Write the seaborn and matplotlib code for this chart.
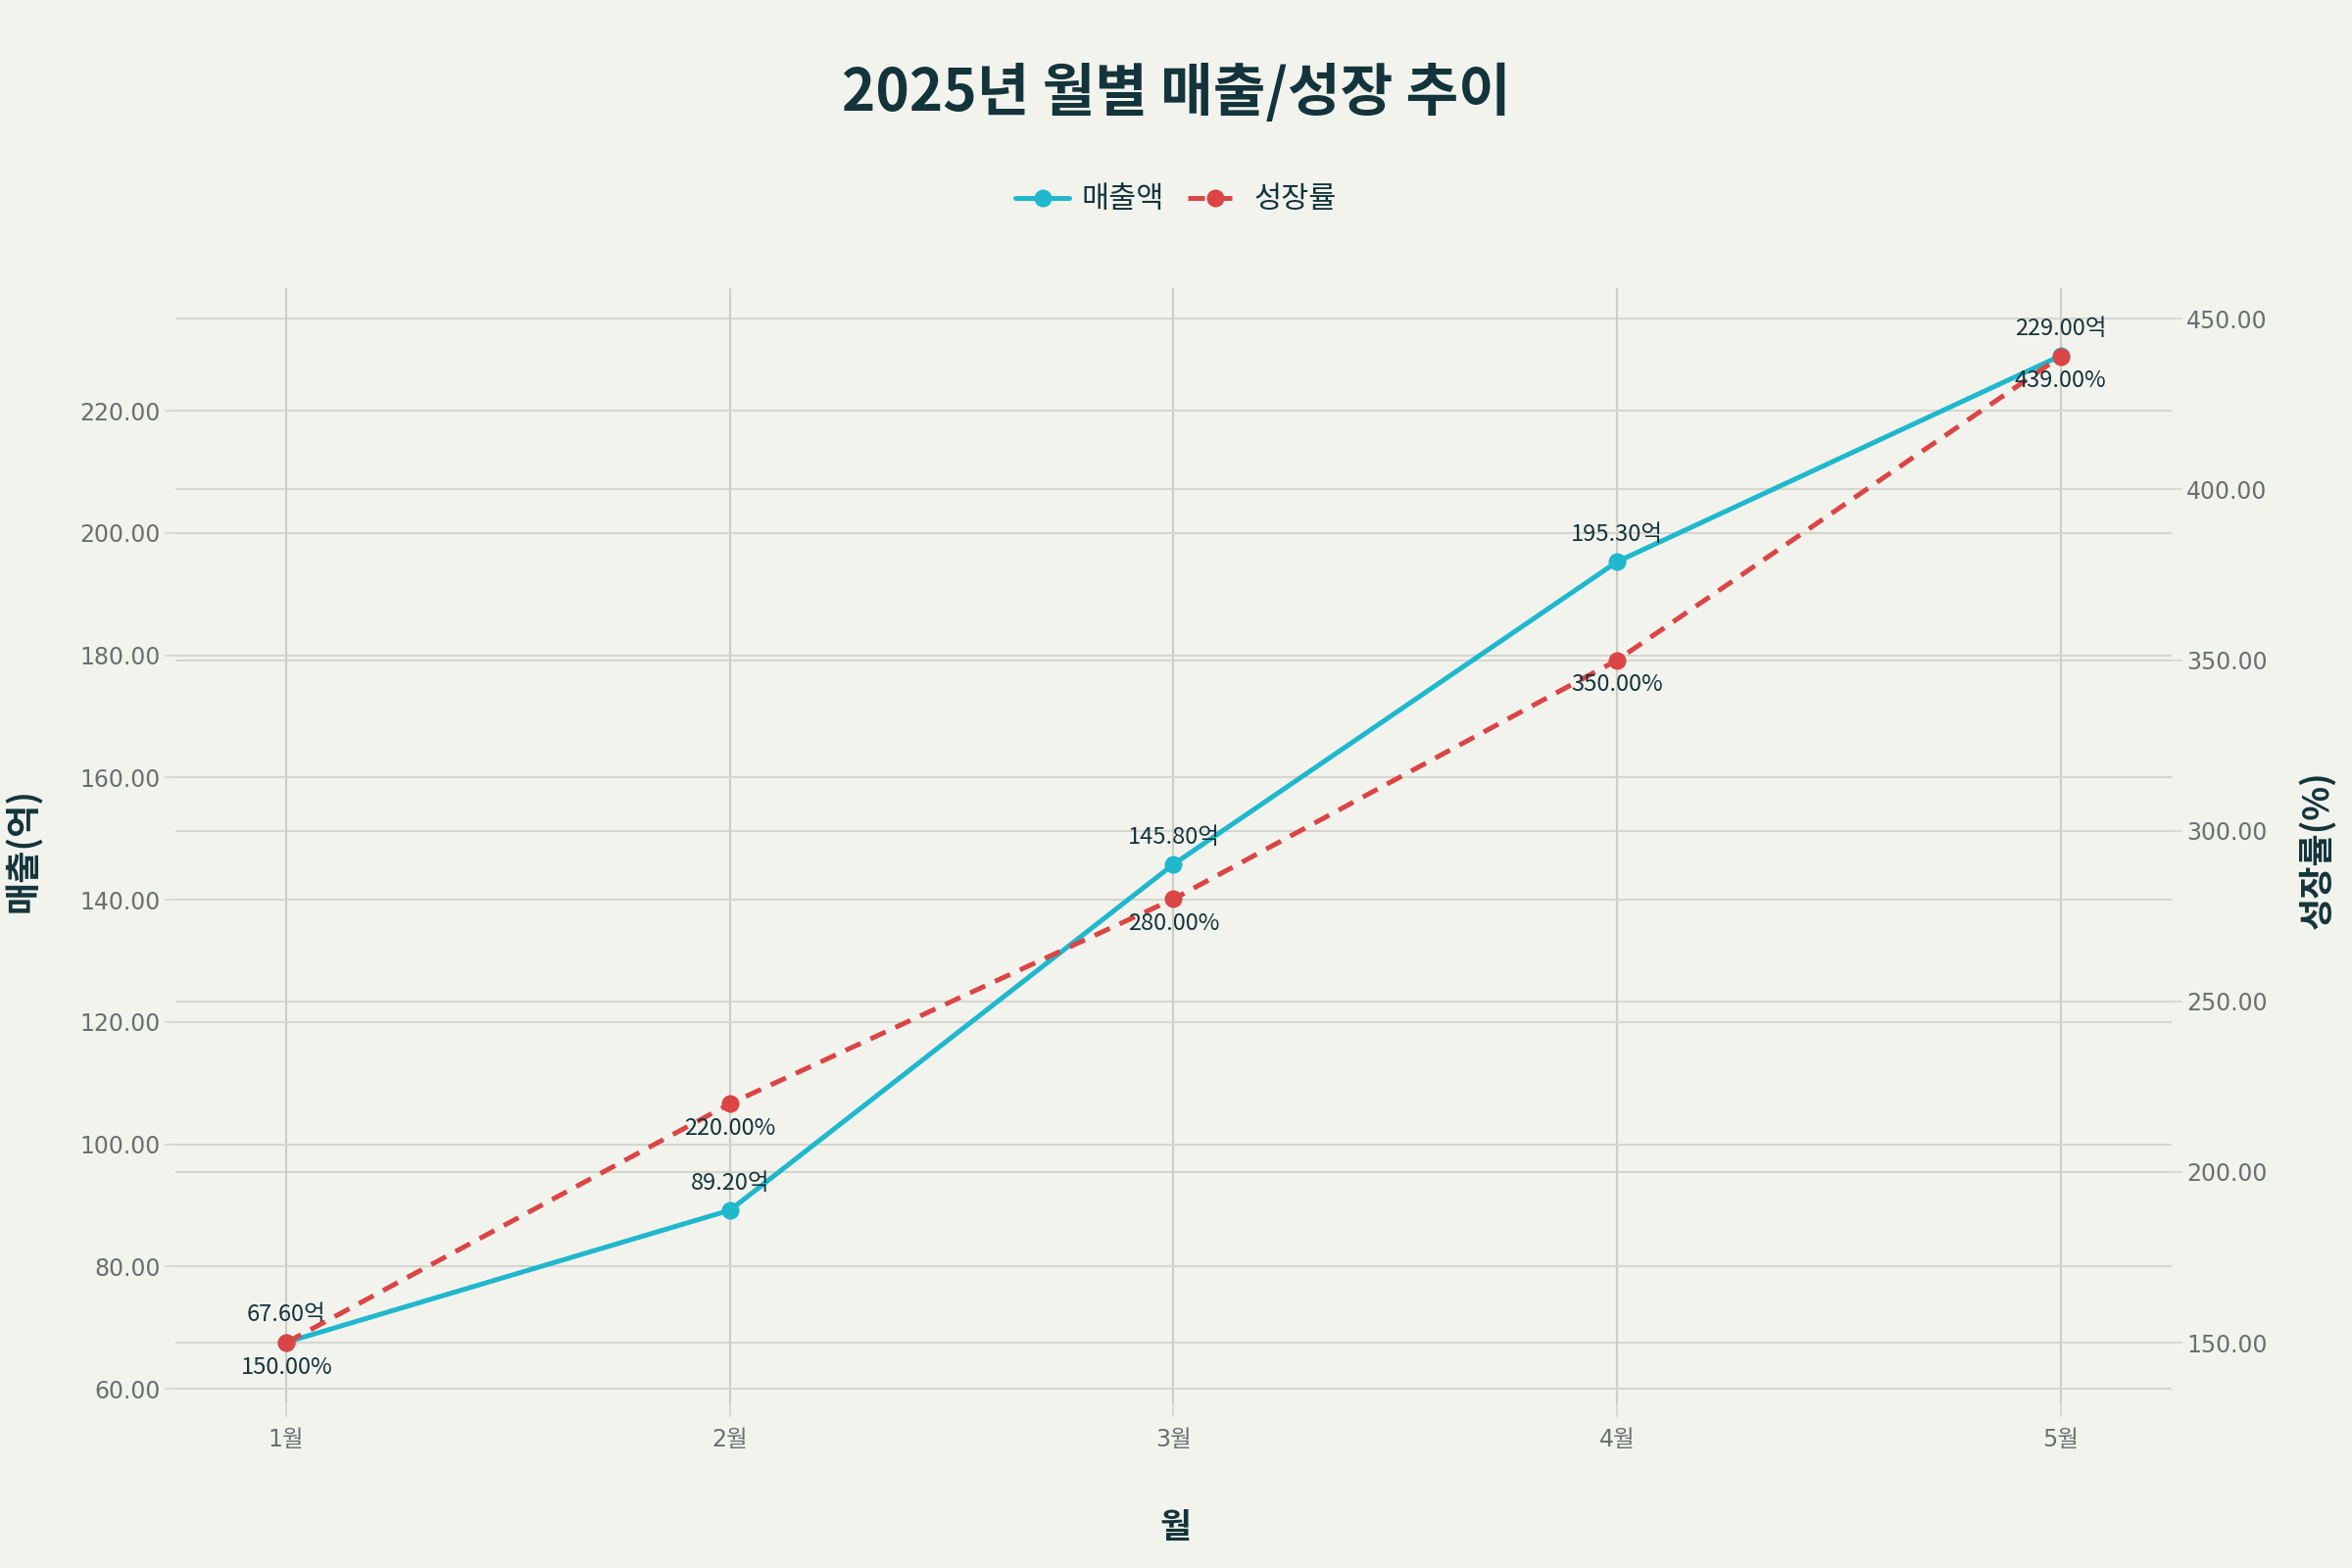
import numpy as np
import pandas as pd
import matplotlib.pyplot as plt
import seaborn as sns


sns.set_theme(style="white")
plt.rcParams["font.family"] = ["Noto Sans CJK KR", "DejaVu Sans"]

months = ["1월", "2월", "3월", "4월", "5월"]
sales = [67.6, 89.2, 145.8, 195.3, 229.0]
growth = [150.0, 220.0, 280.0, 350.0, 439.0]
sales_ticks = [60, 80, 100, 120, 140, 160, 180, 200, 220]
growth_ticks = [150, 200, 250, 300, 350, 400, 450]

bg = "#F3F3EE"
dark = "#13343B"
tick_gray = "#6A6F6F"
grid_gray = "#D6D6D0"
cyan = "#1FB8CD"
red = "#DB4545"
tick_font = ["DejaVu Sans", "Noto Sans CJK KR"]

df = pd.DataFrame({"pos": np.arange(len(months)), "sales": sales, "growth": growth})

fig = plt.figure(figsize=(24, 16), dpi=100, facecolor=bg)
ax = fig.add_axes([0.0746, 0.105, 0.8487, 0.711])
ax_grid = ax.twinx()   # right-axis gridlines, drawn under the lines
ax2 = ax.twinx()       # growth line + right tick labels, on top

ax_grid.set_zorder(0)
ax.set_zorder(1)
ax2.set_zorder(2)
for a in (ax, ax_grid, ax2):
    a.patch.set_visible(False)
    for s in a.spines.values():
        s.set_visible(False)

left_lim = (57.6, 240)
right_lim = (132.2, 458.9)

# right grid only
ax_grid.set_ylim(*right_lim)
ax_grid.set_yticks(growth_ticks)
ax_grid.tick_params(axis="y", length=0, labelright=False)
ax_grid.grid(axis="y", color=grid_gray, linewidth=1.5)

# sales line
sns.lineplot(data=df, x="pos", y="sales", ax=ax, color=cyan, linewidth=3.6,
             marker="o", markersize=13, markeredgewidth=0, label="매출액", legend=False)
ax.set_ylim(*left_lim)
ax.set_xlim(-0.25, 4.25)
ax.set_yticks(sales_ticks)
ax.set_yticklabels([f"{t:.2f}" for t in sales_ticks], family=tick_font)
ax.set_xticks(df["pos"])
ax.set_xticklabels(months, family=tick_font)
ax.grid(True, color=grid_gray, linewidth=1.5)
ax.xaxis.grid(True, color="#CDCDC7", linewidth=1.5)
ax.tick_params(axis="y", direction="out", length=8, width=1.2, color=grid_gray,
               labelsize=17, labelcolor=tick_gray, pad=3, left=True)
ax.tick_params(axis="x", direction="out", length=10, width=1.2, color=grid_gray,
               labelsize=17, labelcolor=tick_gray, pad=8, bottom=True)

# growth line
sns.lineplot(data=df, x="pos", y="growth", ax=ax2, color=red, linewidth=3.6,
             marker="o", markersize=13, markeredgewidth=0, label="성장률", legend=False)
ax2.lines[0].set_dashes((3.4, 2.2))
ax2.set_ylim(*right_lim)
ax2.set_yticks(growth_ticks)
ax2.set_yticklabels([f"{t:.2f}" for t in growth_ticks], family=tick_font)
ax2.grid(False)
ax2.tick_params(axis="y", direction="out", length=8, width=1.2, color=grid_gray,
                labelsize=17, labelcolor=tick_gray, pad=3, right=True)

# value labels
for x, v in zip(df["pos"], sales):
    ax.annotate(f"{v:.2f}억", xy=(x, v), xytext=(0, 20), textcoords="offset points",
                ha="center", va="center", fontsize=17, color=dark, zorder=5)
for x, v in zip(df["pos"], growth):
    ax2.annotate(f"{v:.2f}%", xy=(x, v), xytext=(0, -18), textcoords="offset points",
                 ha="center", va="center", fontsize=17, color=dark)

ax.set_xlabel("")
ax.set_ylabel("")
ax2.set_xlabel("")
ax2.set_ylabel("")
fig.text(0.5, 0.026, "월", ha="center", va="center", fontsize=25, fontweight="bold", color=dark)
fig.text(0.0096, 0.458, "매출(억)", ha="center", va="center", rotation=90,
         fontsize=26, fontweight="bold", color=dark)
fig.text(0.985, 0.458, "성장률(%)", ha="center", va="center", rotation=90,
         fontsize=26, fontweight="bold", color=dark)

fig.text(0.5, 0.94, "2025년 월별 매출/성장 추이", ha="center", va="center",
         fontsize=42, fontweight="heavy", color=dark)

handles = ax.lines[:1] + ax2.lines[:1]
fig.legend(handles, ["매출액", "성장률"], loc="center", bbox_to_anchor=(0.5, 0.8725),
           ncol=2, frameon=False, fontsize=22, handlelength=1.8, columnspacing=0.8,
           handletextpad=0.4, labelcolor=dark)

plt.savefig("out.png", dpi=100, facecolor=bg)
